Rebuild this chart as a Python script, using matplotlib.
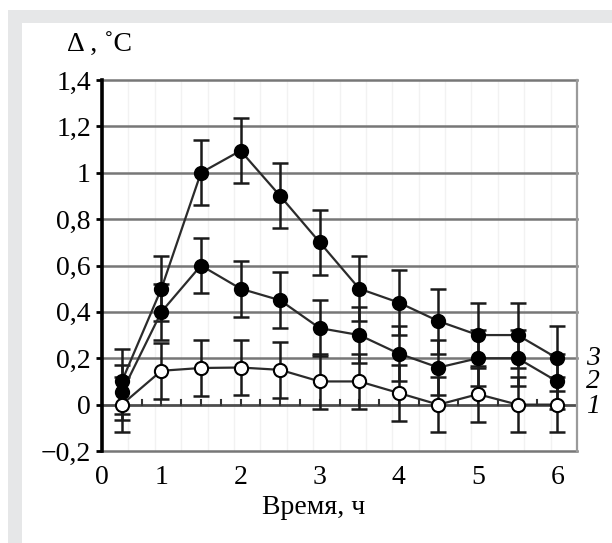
import numpy as np
import matplotlib.pyplot as plt
from matplotlib.patches import Rectangle

plt.rcParams['font.family'] = ['Liberation Serif', 'DejaVu Serif']

# categories along the time axis (Excel-like category axis)
times = ['0.25', '1', '1.5', '2', '2.5', '3', '3.5', '4', '4.5', '5', '5.5', '6']
tick_labels = ['0', '1', '2', '3', '4', '5', '6']
tick_pos = [-0.5, 1, 3, 5, 7, 9, 11]

curve1 = [0, 0.146, 0.158, 0.16, 0.15, 0.10, 0.10, 0.05, 0, 0.045, 0, 0]
curve2 = [0.053, 0.40, 0.60, 0.50, 0.45, 0.33, 0.30, 0.22, 0.16, 0.20, 0.20, 0.10]
curve3 = [0.10, 0.50, 1.00, 1.095, 0.90, 0.70, 0.50, 0.44, 0.36, 0.30, 0.30, 0.20]
err1 = 0.12
err2 = 0.12
err3 = 0.14

x = np.arange(len(times))

fig = plt.figure(figsize=(6.12, 5.43), dpi=100)
fig.patches.append(Rectangle((8 / 612, 0), 1, 1 - 10 / 543, transform=fig.transFigure,
                             facecolor='#e6e7e8', edgecolor='none', zorder=-2))
fig.patches.append(Rectangle((22 / 612, 0), 1, 1 - 23 / 543, transform=fig.transFigure,
                             facecolor='white', edgecolor='none', zorder=-1))

ax = fig.add_axes([102 / 612, 92 / 543, 475 / 612, 371 / 543])
ax.set_facecolor('none')

# faint vertical lines
for xv in np.arange(-0.5 + 2 / 3, 11.5, 2 / 3):
    ax.axvline(xv, color='#f2f2f2', lw=1, zorder=0)
# horizontal gridlines
for yv in np.arange(-0.2, 1.41, 0.2):
    if abs(yv) < 1e-9:
        continue
    ax.axhline(yv, color='#777777', lw=1.8, zorder=1, clip_on=False)
ax.axhline(0, color='#4d4d4d', lw=2.0, zorder=1)
# small ticks on the zero line
for xv in np.arange(0, 11.5, 0.5):
    ax.plot([xv, xv], [0, 0.02], color='#333333', lw=1.5, zorder=1)

for vals, err, face in [(curve3, err3, 'black'), (curve2, err2, 'black'), (curve1, err1, 'white')]:
    ax.errorbar(x, vals, yerr=err, fmt='none', ecolor='#1a1a1a', elinewidth=1.8,
                capsize=5.5, capthick=1.8, zorder=2)
    ax.plot(x, vals, '-', color='#2b2b2b', lw=1.6, zorder=3)
    ax.plot(x, vals, 'o', ms=9.5, mfc=face, mec='black', mew=1.5, zorder=4)

ax.set_xlim(-0.5, 11.5)
ax.set_ylim(-0.2, 1.4)
ax.set_yticks(np.arange(-0.2, 1.41, 0.2))
ax.set_yticklabels(['\u22120,2', '0', '0,2', '0,4', '0,6', '0,8', '1', '1,2', '1,4'], fontsize=20)
ax.set_xticks(tick_pos)
ax.set_xticklabels(tick_labels, fontsize=20)
ax.tick_params(axis='x', length=0, pad=10)
ax.tick_params(axis='y', length=4, width=2, color='black', pad=4)

for s in ['top', 'bottom']:
    ax.spines[s].set_visible(False)
ax.spines['left'].set_color('black')
ax.spines['left'].set_linewidth(2.6)
ax.spines['left'].set_zorder(5)
ax.spines['right'].set_color('#9a9a9a')
ax.spines['right'].set_linewidth(1.6)

for lab, yv in [('3', 0.21), ('2', 0.11), ('1', 0.0)]:
    ax.text(11.9, yv - 0.01, lab, fontsize=20, style='italic', va='center', ha='center',
            clip_on=False)

fig.text(67 / 612, 1 - 45 / 543, '\u0394 , \u02daC', fontsize=20, va='center', ha='left')
fig.text(314 / 612, 1 - 507 / 543, 'Время, ч', fontsize=20, va='center', ha='center')

fig.savefig('out.png', dpi=100)
